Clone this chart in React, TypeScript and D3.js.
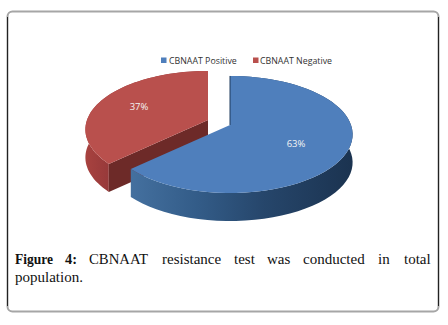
import React from 'react';
import * as d3 from 'd3';

const categories = ['CBNAAT Positive', 'CBNAAT Negative'];
const values = [63, 37];
const colors = ['#4f7fbc', '#b9504d'];
const captionLine1 = [
  { t: 'Figure', x: 15, bold: true, len: 38 },
  { t: '4:', x: 65, bold: true, len: 12 },
  { t: 'CBNAAT', x: 89, len: 59 },
  { t: 'resistance', x: 162 },
  { t: 'test', x: 234 },
  { t: 'was', x: 267 },
  { t: 'conducted', x: 303 },
  { t: 'in', x: 378 },
  { t: 'total', x: 404 },
];

const width = 448;
const height = 325;
const depth = 28;
const rx = 121;
const ry = 57;
const persp = 0.162;
const apex = [230, 125];
const explode = [[0, 0], [-22, -5]];
const labelPos = [[296, 147], [139, 110]];

// fake 3d: tilted disc with a bit of perspective towards the viewer
const project = (angle: number, r: number, off: number[]): [number, number] => {
  const u = Math.sin(angle) * r;
  const v = -Math.cos(angle) * r;
  const s = 1 / (1 - persp * v);
  return [apex[0] + off[0] + rx * u * s, apex[1] + off[1] + ry * v * s];
};

const pie = d3.pie<number>().sort(null).startAngle(0).endAngle(Math.PI * 2);
const slices = pie(values);
const line = d3.line();

const rim = (a0: number, a1: number, off: number[]) =>
  d3.range(0, 61).map(i => project(a0 + ((a1 - a0) * i) / 60, 1, off));

const topFace = (d: d3.PieArcDatum<number>, off: number[]) => {
  const c: [number, number] = [apex[0] + off[0], apex[1] + off[1]];
  return line([c, ...rim(d.startAngle, d.endAngle, off)]) + 'Z';
};

const drop = (p: [number, number]): [number, number] => [p[0], p[1] + depth];

const outerWall = (d: d3.PieArcDatum<number>, off: number[]) => {
  const pts = rim(d.startAngle, d.endAngle, off);
  return line([...pts, ...pts.slice().reverse().map(drop)]) + 'Z';
};

const innerWall = (d: d3.PieArcDatum<number>, off: number[], angle: number) => {
  const c: [number, number] = [apex[0] + off[0], apex[1] + off[1]];
  const p = project(angle, 1, off);
  return line([c, p, drop(p), drop(c)]) + 'Z';
};

export default function App() {
  const blue = slices[0];
  const red = slices[1];
  return (
    <svg
      width={width}
      height={height}
      style={{ position: 'absolute', left: 0, top: 0, background: '#fff' }}
    >
      <defs>
        <linearGradient id="blueWall" x1="0" x2="1" y1="0" y2="0">
          <stop offset="0" stopColor="#44709f" />
          <stop offset="0.3" stopColor="#335c88" />
          <stop offset="0.6" stopColor="#26466b" />
          <stop offset="1" stopColor="#1b3350" />
        </linearGradient>
        <linearGradient id="redWall" x1="0" x2="1" y1="0" y2="0">
          <stop offset="0" stopColor="#a8423f" />
          <stop offset="0.2" stopColor="#96393a" />
          <stop offset="1" stopColor="#8a3331" />
        </linearGradient>
      </defs>

      <rect x={7.5} y={11.5} width={431} height={300} rx={5} fill="#fff" stroke="#a6a6a6" strokeWidth={2} />
      <path d="M7.5 17V306M438.5 17V306" stroke="#222" strokeWidth={1} />

      <path d={outerWall(red, explode[1])} fill="url(#redWall)" />
      <path d={innerWall(red, explode[1], red.startAngle)} fill="#6d2a28" />
      <path d={topFace(red, explode[1])} fill={colors[1]} />

      <path d={outerWall(blue, explode[0])} fill="url(#blueWall)" />
      <path d={topFace(blue, explode[0])} fill={colors[0]} />
      <path
        d={line([[apex[0], apex[1]], project(0, 1, explode[0])]) || ''}
        stroke="#1f3a5c"
        strokeWidth={1}
        fill="none"
      />

      {slices.map((d, i) => (
        <text
          key={i}
          x={labelPos[i][0]}
          y={labelPos[i][1]}
          textAnchor="middle"
          fontFamily="'Open Sans', sans-serif"
          fontSize={9.5}
          fill="#f4f4f4"
        >
          {d.value}%
        </text>
      ))}

      {categories.map((c, i) => (
        <g key={c}>
          <rect x={[161, 253][i]} y={57.5} width={5.5} height={5.5} fill={colors[i]} />
          <text
            x={[169, 260][i]}
            y={63.5}
            fontFamily="'Open Sans', sans-serif"
            fontSize={8.8}
            fill="#333"
          >
            {c}
          </text>
        </g>
      ))}

      {captionLine1.map(w => (
        <text
          key={w.t}
          x={w.x}
          y={264}
          fontFamily="'Liberation Serif', serif"
          fontSize={15}
          fontWeight={w.bold ? 'bold' : 'normal'}
          textLength={w.len}
          lengthAdjust="spacingAndGlyphs"
          fill="#111"
        >
          {w.t}
        </text>
      ))}
      <text x={15} y={282} fontFamily="'Liberation Serif', serif" fontSize={15} fill="#111">
        population.
      </text>
    </svg>
  );
}
